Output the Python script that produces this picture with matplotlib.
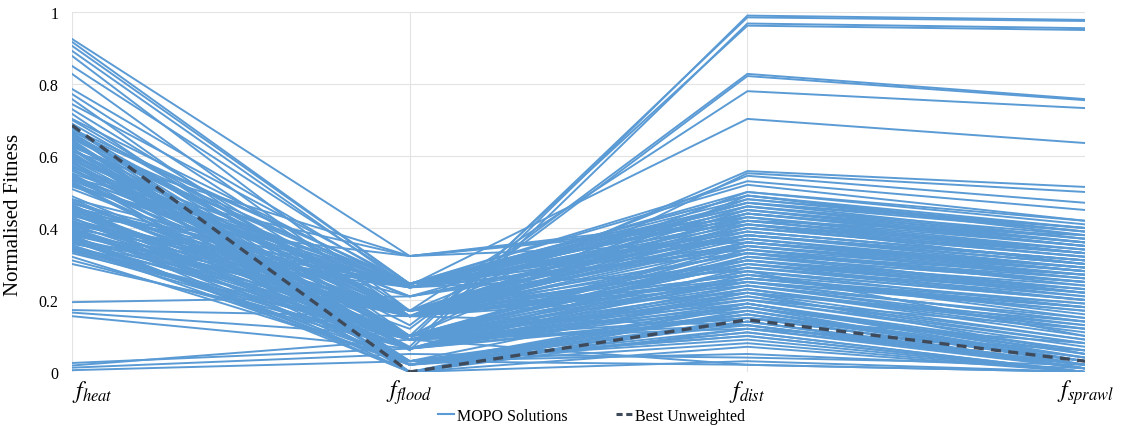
import matplotlib
matplotlib.use("Agg")
import matplotlib.pyplot as plt
from matplotlib.lines import Line2D

plt.rcParams['font.family'] = ['Liberation Serif', 'DejaVu Serif']
plt.rcParams['mathtext.fontset'] = 'stix'

axes_labels = [r"$f_{heat}$", r"$f_{flood}$", r"$f_{dist}$", r"$f_{sprawl}$"]
y_ticks = [0, 0.2, 0.4, 0.6, 0.8, 1]
y_tick_labels = ["0", "0.2", "0.4", "0.6", "0.8", "1"]

# MOPO solutions: value of each solution on each objective axis
heat = [
    0.55, 0.48, 0.62, 0.42, 0.60, 0.45, 0.38, 0.52, 0.70, 0.40, 0.66, 0.36,
    0.925, 0.917, 0.906, 0.892, 0.878, 0.85, 0.828, 0.786, 0.772, 0.758, 0.744, 0.73, 0.717, 0.703,
    0.194, 0.172, 0.165, 0.155, 0.025, 0.018, 0.012, 0.005,
    0.68, 0.675, 0.67, 0.665, 0.66, 0.655, 0.65, 0.645, 0.64, 0.635,
    0.63, 0.625, 0.62, 0.61, 0.60, 0.595, 0.59, 0.58, 0.575, 0.57,
    0.565, 0.56, 0.55, 0.545, 0.54, 0.535, 0.53, 0.525, 0.52, 0.515,
    0.48, 0.475, 0.47, 0.465, 0.46, 0.455, 0.45, 0.445, 0.44, 0.435,
    0.43, 0.425, 0.42, 0.415, 0.41, 0.405, 0.40, 0.398, 0.395, 0.39,
    0.385, 0.38, 0.378, 0.375, 0.37, 0.365, 0.36, 0.355, 0.35, 0.345,
    0.34, 0.335, 0.33, 0.32, 0.31, 0.30, 0.612, 0.588, 0.558, 0.452,
    0.432, 0.412, 0.392, 0.372, 0.642, 0.622, 0.602, 0.582, 0.468, 0.448,
    0.69, 0.678, 0.668, 0.658, 0.648, 0.638, 0.628, 0.618, 0.605, 0.592,
    0.585, 0.572, 0.562, 0.552, 0.542, 0.532, 0.522, 0.47, 0.462, 0.457,
    0.442, 0.438, 0.428, 0.418, 0.408, 0.402, 0.388, 0.382, 0.368, 0.362,
    0.358, 0.352, 0.348, 0.342, 0.338, 0.568, 0.538, 0.508, 0.488, 0.618,
]
flood = [
    0.07, 0.09, 0.06, 0.10, 0.13, 0.12, 0.17, 0.24, 0.155, 0.10, 0.17, 0.245,
    0.322, 0.245, 0.245, 0.235, 0.17, 0.245, 0.155, 0.235, 0.17, 0.10, 0.245, 0.155, 0.09, 0.235,
    0.21, 0.155, 0.10, 0.065, 0.065, 0.09, 0.05, 0.03,
    0.02, 0.245, 0.155, 0.09, 0.0, 0.17, 0.235, 0.03, 0.10, 0.065,
    0.155, 0.245, 0.09, 0.02, 0.17, 0.235, 0.10, 0.065, 0.03, 0.245,
    0.10, 0.155, 0.0, 0.17, 0.09, 0.245, 0.02, 0.155, 0.065, 0.235,
    0.245, 0.09, 0.17, 0.03, 0.155, 0.10, 0.235, 0.0, 0.065, 0.155,
    0.02, 0.17, 0.10, 0.245, 0.09, 0.155, 0.03, 0.235, 0.065, 0.10,
    0.155, 0.0, 0.245, 0.09, 0.17, 0.02, 0.10, 0.235, 0.065, 0.155,
    0.09, 0.065, 0.10, 0.03, 0.065, 0.09, 0.322, 0.21, 0.245, 0.21,
    0.322, 0.245, 0.155, 0.02, 0.0, 0.03, 0.17, 0.10, 0.235, 0.09,
    0.155, 0.10, 0.245, 0.065, 0.17, 0.02, 0.235, 0.155, 0.09, 0.17,
    0.065, 0.155, 0.10, 0.235, 0.03, 0.17, 0.09, 0.155, 0.02, 0.245,
    0.10, 0.17, 0.065, 0.155, 0.235, 0.0, 0.09, 0.17, 0.03, 0.10,
    0.155, 0.065, 0.02, 0.10, 0.09, 0.21, 0.322, 0.155, 0.10, 0.0,
]
dist = [
    0.99, 0.985, 0.968, 0.962, 0.828, 0.822, 0.78, 0.703, 0.558, 0.552, 0.545, 0.53,
    0.42, 0.47, 0.38, 0.50, 0.33, 0.45, 0.40, 0.28, 0.36, 0.30, 0.49, 0.26, 0.22, 0.44,
    0.35, 0.25, 0.20, 0.15, 0.32, 0.12, 0.04, 0.02,
    0.18, 0.46, 0.38, 0.28, 0.12, 0.41, 0.33, 0.22, 0.49, 0.16,
    0.31, 0.44, 0.25, 0.14, 0.36, 0.47, 0.20, 0.29, 0.10, 0.39,
    0.34, 0.27, 0.15, 0.43, 0.23, 0.35, 0.19, 0.48, 0.26, 0.40,
    0.37, 0.21, 0.45, 0.13, 0.30, 0.24, 0.42, 0.17, 0.32, 0.50,
    0.11, 0.39, 0.28, 0.46, 0.18, 0.33, 0.16, 0.41, 0.27, 0.36,
    0.29, 0.14, 0.48, 0.23, 0.37, 0.12, 0.31, 0.44, 0.20, 0.35,
    0.26, 0.18, 0.34, 0.10, 0.22, 0.15, 0.43, 0.38, 0.52, 0.40,
    0.36, 0.49, 0.13, 0.08, 0.03, 0.05, 0.25, 0.32, 0.39, 0.02,
    0.27, 0.35, 0.45, 0.19, 0.31, 0.11, 0.42, 0.24, 0.17, 0.46,
    0.23, 0.41, 0.19, 0.37, 0.09, 0.29, 0.33, 0.22, 0.16, 0.43,
    0.30, 0.38, 0.21, 0.44, 0.34, 0.19, 0.25, 0.42, 0.14, 0.28,
    0.38, 0.24, 0.17, 0.31, 0.13, 0.47, 0.41, 0.36, 0.26, 0.07,
]
sprawl = [
    0.978, 0.975, 0.955, 0.950, 0.758, 0.755, 0.733, 0.636, 0.514, 0.50, 0.47, 0.45,
    0.38, 0.40, 0.30, 0.42, 0.25, 0.36, 0.33, 0.20, 0.28, 0.22, 0.39, 0.18, 0.14, 0.35,
    0.28, 0.18, 0.12, 0.08, 0.25, 0.06, 0.02, 0.0,
    0.02, 0.38, 0.30, 0.10, 0.01, 0.34, 0.22, 0.05, 0.40, 0.03,
    0.24, 0.36, 0.17, 0.02, 0.29, 0.37, 0.08, 0.21, 0.0, 0.31,
    0.27, 0.15, 0.03, 0.33, 0.12, 0.26, 0.04, 0.39, 0.19, 0.32,
    0.28, 0.09, 0.35, 0.01, 0.23, 0.13, 0.34, 0.02, 0.25, 0.41,
    0.0, 0.31, 0.20, 0.37, 0.06, 0.27, 0.04, 0.30, 0.16, 0.28,
    0.22, 0.01, 0.40, 0.11, 0.29, 0.02, 0.21, 0.36, 0.07, 0.26,
    0.17, 0.05, 0.24, 0.0, 0.09, 0.03, 0.35, 0.30, 0.42, 0.32,
    0.29, 0.38, 0.02, 0.0, 0.0, 0.01, 0.14, 0.23, 0.31, 0.0,
    0.19, 0.27, 0.37, 0.06, 0.23, 0.0, 0.33, 0.15, 0.04, 0.36,
    0.10, 0.32, 0.05, 0.28, 0.0, 0.20, 0.26, 0.13, 0.01, 0.34,
    0.20, 0.29, 0.08, 0.35, 0.25, 0.03, 0.14, 0.33, 0.02, 0.18,
    0.31, 0.12, 0.03, 0.22, 0.01, 0.39, 0.33, 0.27, 0.18, 0.0,
]
# Best unweighted solution
best = [0.685, 0.0, 0.145, 0.03]

blue = "#5B9BD5"
dark = "#3E4A5A"

fig = plt.figure(figsize=(11.22, 4.27), dpi=100)
ax = fig.add_axes([0.0642, 0.1265, 0.9029, 0.8431])

xs = list(range(len(axes_labels)))
for i in range(len(heat)):
    ax.plot(xs, [heat[i], flood[i], dist[i], sprawl[i]], color=blue, lw=1.4, zorder=2)
ax.plot(xs, best, color=dark, lw=2.4, ls=(0, (3.0, 2.2)), zorder=3)

ax.set_xlim(0, 3)
ax.set_ylim(0, 1)
ax.set_yticks(y_ticks)
ax.set_yticklabels(y_tick_labels, fontsize=11.5)
ax.set_xticks(xs)
ax.set_xticklabels(axes_labels, fontsize=17)
ax.get_xticklabels()[0].set_ha('left')
ax.tick_params(length=0, pad=4)
ax.tick_params(axis='y', pad=10)
for s in ax.spines.values():
    s.set_visible(False)
ax.grid(True, color="#E3E3E3", lw=0.8, zorder=0)
ax.set_axisbelow(True)
ax.set_ylabel("Normalised Fitness", fontsize=15, labelpad=8)
ax.yaxis.set_label_coords(-0.048, 0.44)

handles = [Line2D([], [], color=blue, lw=1.5),
           Line2D([], [], color=dark, lw=2.2, ls=(0, (2, 1.2)))]
fig.legend(handles, ["MOPO Solutions", "Best Unweighted"], loc="lower center",
           bbox_to_anchor=(0.527, -0.028), ncol=2, frameon=False, fontsize=11.5,
           handlelength=1.0, handletextpad=0.2, columnspacing=3.0)

fig.savefig("out.png", dpi=100)
